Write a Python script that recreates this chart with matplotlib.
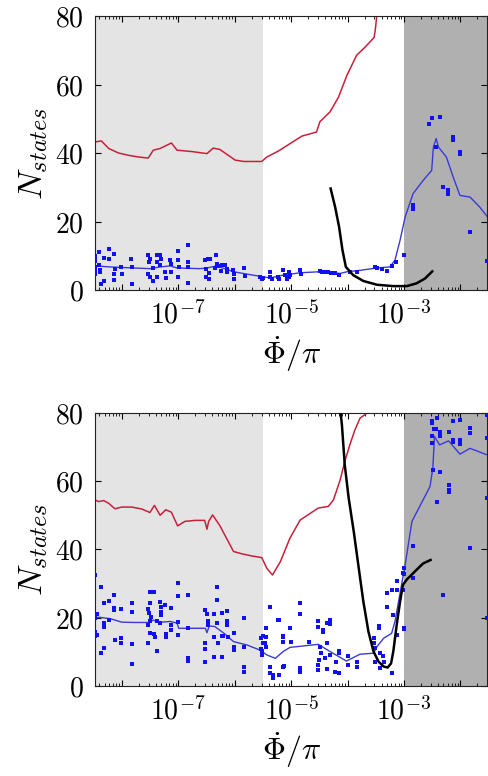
import numpy as np
import matplotlib
matplotlib.use("Agg")
import matplotlib.pyplot as plt
from matplotlib.ticker import FixedLocator, NullFormatter, LogLocator

plt.rcParams['mathtext.fontset'] = 'cm'
plt.rcParams['font.family'] = ['DejaVu Serif']

# ---------------- data (x as log10 of Phi_dot/pi) ----------------
xlim_log = (-8.47, -1.53)
light_end_log = -5.5
dark_start_log = -3.0
yticks = [0, 20, 40, 60, 80]
ytick_labels = ['$0$', '$20$', '$40$', '$60$', '$80$']
xtick_exps = [-8, -7, -6, -5, -4, -3, -2]
xtick_labels = ['', '$10^{-7}$', '', '$10^{-5}$', '', '$10^{-3}$', '']

# top panel
top_red_lx = [-8.47, -8.36, -8.23, -8.06, -7.88, -7.70, -7.53, -7.44, -7.32, -7.12, -7.02, -6.76, -6.49,
              -6.38, -6.26, -5.99, -5.84, -5.52, -5.43, -5.22, -5.02, -4.81, -4.55, -4.49, -4.31, -4.16,
              -4.01, -3.84, -3.69, -3.53, -3.51, -3.48]
top_red_y = [43.3, 43.6, 41.4, 40.1, 39.4, 38.9, 38.6, 40.9, 41.4, 43.0, 40.9, 40.5, 39.9,
             41.5, 41.1, 38.0, 37.6, 37.6, 38.9, 40.7, 42.8, 45.0, 46.2, 49.2, 52.1, 56.4,
             62.8, 68.6, 71.0, 73.8, 75.9, 80.5]

top_black_lx = [-4.30, -4.22, -4.15, -4.09, -4.03, -3.90, -3.72, -3.48, -3.19, -2.95, -2.78, -2.63, -2.50]
top_black_y = [29.7, 24.3, 18.5, 11.7, 6.8, 4.4, 2.7, 1.6, 1.2, 1.2, 2.0, 3.4, 5.5]

top_blue_lx = [-8.47, -8.20, -7.79, -7.50, -7.32, -7.14, -7.02, -6.61, -6.49, -6.32, -6.02, -5.78, -5.49,
               -5.37, -5.14, -4.84, -4.49, -4.13, -4.01, -3.78, -3.48, -3.25, -3.16, -3.07, -2.98, -2.84,
               -2.66, -2.51, -2.48, -2.43, -2.39, -2.25, -2.13, -2.01, -1.83, -1.66, -1.53]
top_blue_y = [7.1, 6.8, 6.5, 6.3, 6.8, 7.1, 6.5, 6.3, 6.5, 7.1, 5.4, 4.7, 3.9,
              3.6, 4.4, 5.1, 5.4, 4.9, 5.4, 5.8, 6.5, 6.8, 8.8, 14.6, 21.4, 28.2,
              32.1, 35.0, 41.8, 44.3, 41.8, 38.9, 33.1, 27.7, 27.2, 24.3, 21.6]

top_pts_lx = [-8.47, -8.47, -8.47, -8.47, -8.47, -8.47, -8.41, -8.41, -8.38, -8.39, -8.32, -8.31, -8.37,
              -8.23, -8.22, -8.14, -8.13, -8.13, -8.12, -8.01, -8.00, -7.84, -7.82, -7.82, -7.53, -7.50,
              -7.51, -7.53, -7.50, -7.44, -7.45, -7.38, -7.32, -7.37, -7.31, -7.33, -7.38, -7.23, -7.21,
              -7.14, -7.13, -7.12, -7.01, -7.01, -6.99, -7.01, -6.83, -6.83, -6.82, -6.82, -6.52, -6.50,
              -6.48, -6.46, -6.50, -6.46, -6.43, -6.33, -6.32, -6.35, -6.29, -6.23, -6.24, -6.17, -6.14,
              -6.13, -6.02, -6.01, -6.01, -5.83, -5.81, -5.55, -5.52, -5.49, -5.37, -5.37, -5.34, -5.24,
              -5.22, -5.14, -5.11, -5.08, -5.02, -5.03, -5.03, -4.84, -4.83, -4.49, -4.46, -4.40, -4.35,
              -4.29, -4.23, -4.15, -3.96, -3.83, -3.51, -3.48, -3.39, -3.31, -3.22, -3.14, -3.00, -2.55,
              -2.50, -2.37, -2.14, -2.14, -2.01, -2.01, -2.31, -2.22, -2.22, -2.84, -2.84, -1.84, -1.53,
              -2.43]
top_pts_y = [10.0, 9.2, 8.5, 6.8, 5.8, 4.6, 11.2, 7.5, 5.8, 5.2, 9.4, 2.6, 1.7,
             12.0, 9.2, 10.7, 4.6, 2.9, 6.1, 6.8, 4.6, 9.1, 1.7, 6.8, 10.4, 9.2,
             8.1, 4.6, 3.9, 6.5, 2.6, 10.4, 10.4, 8.1, 9.2, 7.3, 3.9, 5.2, 3.6,
             8.8, 7.8, 5.2, 11.4, 8.8, 6.8, 3.9, 13.1, 8.1, 6.8, 2.2, 8.8, 6.3,
             9.2, 4.9, 3.9, 3.2, 9.2, 10.4, 7.8, 6.5, 7.1, 7.5, 5.5, 7.3, 6.1,
             5.2, 5.8, 4.6, 3.2, 6.5, 4.2, 3.9, 3.4, 3.6, 5.2, 3.9, 3.4, 3.9,
             3.4, 5.8, 4.4, 3.4, 4.4, 5.4, 3.9, 5.8, 4.6, 5.5, 5.2, 5.2, 5.2,
             4.9, 4.9, 4.4, 5.4, 5.4, 6.8, 6.5, 6.1, 5.5, 7.1, 8.3, 10.4, 48.5,
             50.4, 50.6, 44.8, 44.0, 40.4, 39.7, 30.2, 29.2, 28.2, 24.8, 23.6, 17.0, 8.5,
             41.8]

# bottom panel
bot_red_lx = [-8.47, -8.41, -8.32, -8.23, -8.12, -8.00, -7.82, -7.64, -7.50, -7.42, -7.32, -7.22, -7.12,
              -7.01, -6.88, -6.70, -6.53, -6.49, -6.46, -6.39, -6.26, -6.02, -5.87, -5.70, -5.52, -5.43,
              -5.33, -5.19, -5.02, -4.84, -4.52, -4.34, -4.25, -4.13, -4.05, -3.96, -3.87, -3.78, -3.66,
              -3.40]
bot_red_y = [54.5, 54.0, 54.3, 53.5, 51.9, 52.4, 52.4, 51.8, 50.8, 52.9, 50.0, 51.6, 50.9,
             46.9, 48.2, 48.5, 48.5, 45.9, 48.2, 50.1, 46.9, 39.4, 38.7, 38.1, 37.6, 34.5,
             32.5, 36.4, 43.3, 48.6, 52.1, 52.6, 54.5, 60.4, 65.7, 70.6, 75.0, 78.4, 79.9,
             81.0]

bot_black_lx = [-4.13, -4.10, -4.05, -3.98, -3.89, -3.81, -3.72, -3.63, -3.54, -3.45, -3.36, -3.29, -3.23,
                -3.19, -3.13, -3.07, -3.02, -2.95, -2.90, -2.78, -2.66, -2.53]
bot_black_y = [81.0, 76.5, 64.8, 55.0, 45.2, 35.5, 24.7, 15.9, 10.1, 7.1, 5.7, 5.4, 6.6,
               10.1, 17.9, 24.7, 29.6, 31.2, 32.0, 34.0, 35.9, 36.9]

bot_blue_lx = [-8.47, -8.38, -8.20, -8.00, -7.79, -7.53, -7.44, -7.35, -7.14, -7.02, -6.99, -6.79, -6.52,
               -6.49, -6.45, -6.35, -6.17, -6.02, -5.78, -5.55, -5.43, -5.28, -5.14, -5.02, -4.52, -4.31,
               -4.02, -3.78, -3.54, -3.48, -3.36, -3.22, -3.16, -3.07, -2.98, -2.86, -2.54, -2.49, -2.46,
               -2.37, -2.21, -2.01, -1.83, -1.53]
bot_blue_y = [20.1, 20.1, 19.7, 18.7, 18.6, 18.6, 19.3, 18.6, 18.9, 18.4, 16.9, 16.9, 16.9,
              15.6, 17.6, 17.4, 15.2, 13.0, 12.0, 10.5, 9.1, 8.1, 10.1, 11.3, 12.2, 10.1,
              7.3, 9.3, 9.6, 11.5, 14.0, 15.4, 18.9, 27.2, 35.5, 48.2, 58.4, 63.8, 73.1,
              70.6, 71.8, 67.9, 69.6, 67.7]

bot_pts_lx = [-8.47, -8.47, -8.47, -8.47, -8.43, -8.43, -8.37, -8.37, -8.32, -8.31, -8.31, -8.31, -8.23,
              -8.23, -8.13, -8.13, -8.13, -8.12, -8.01, -8.01, -8.01, -7.82, -7.82, -7.82, -7.82, -7.50,
              -7.42, -7.50, -7.53, -7.51, -7.48, -7.49, -7.53, -7.50, -7.42, -7.41, -7.53, -7.38, -7.38,
              -7.32, -7.31, -7.31, -7.31, -7.32, -7.23, -7.21, -7.21, -7.13, -7.13, -7.13, -7.01, -7.01,
              -7.01, -7.01, -6.83, -6.83, -6.83, -6.83, -6.52, -6.49, -6.52, -6.52, -6.52, -6.48, -6.48,
              -6.36, -6.32, -6.32, -6.32, -6.36, -6.29, -6.37, -6.23, -6.23, -6.21, -6.13, -6.13, -6.13,
              -6.12, -6.23, -6.01, -6.01, -6.01, -5.83, -5.83, -5.83, -5.83, -5.54, -5.54, -5.52, -5.52,
              -5.49, -5.44, -5.44, -5.37, -5.37, -5.37, -5.32, -5.32, -5.24, -5.22, -5.14, -5.14, -5.12,
              -5.38, -5.22, -5.44, -5.49, -5.46, -5.14, -5.14, -5.02, -5.01, -5.14, -4.84, -4.84, -4.69,
              -4.84, -4.84, -4.52, -4.52, -4.44, -4.44, -4.37, -4.31, -4.31, -4.37, -4.48, -4.47, -4.50,
              -4.52, -4.52, -4.40, -4.31, -4.37, -4.22, -4.15, -4.15, -4.20, -4.15, -4.00, -4.00, -3.83,
              -3.83, -3.45, -3.44, -3.53, -3.53, -3.51, -3.43, -3.51, -3.42, -3.38, -3.35, -3.31, -3.31,
              -3.22, -3.20, -3.22, -3.13, -3.13, -3.13, -3.01, -3.01, -3.00, -3.00, -3.00, -3.00, -2.84,
              -2.84, -2.50, -2.50, -2.47, -2.43, -2.50, -2.50, -2.42, -2.37, -2.37, -2.48, -2.37, -2.42,
              -2.21, -2.13, -2.13, -2.13, -2.01, -2.01, -2.01, -2.21, -2.21, -2.21, -1.84, -1.84, -1.84,
              -2.31, -1.53, -1.53, -1.53, -1.53]
bot_pts_y = [32.5, 19.8, 15.9, 14.5, 21.1, 14.9, 28.9, 9.8, 24.4, 18.4, 17.4, 11.0, 25.0,
             19.3, 26.7, 22.8, 22.3, 13.5, 22.5, 14.0, 12.5, 24.4, 21.7, 12.3, 6.4, 27.6,
             27.6, 24.2, 22.5, 21.3, 20.3, 18.9, 17.9, 15.6, 15.2, 14.3, 12.5, 10.1, 18.9,
             24.7, 23.2, 21.8, 20.8, 18.4, 23.7, 15.2, 14.3, 22.8, 17.9, 16.4, 30.3, 26.4,
             18.6, 15.0, 26.7, 16.9, 8.1, 7.4, 22.3, 21.1, 12.7, 10.7, 7.1, 18.9, 17.9,
             21.1, 29.1, 25.2, 18.4, 14.3, 12.7, 8.6, 21.5, 14.5, 14.5, 22.1, 18.9, 17.9,
             14.3, 8.4, 15.4, 11.3, 10.5, 19.8, 11.5, 5.7, 4.2, 14.0, 10.7, 10.1, 9.1,
             12.7, 14.3, 11.3, 23.2, 5.5, 3.9, 3.2, 2.2, 19.3, 3.2, 14.3, 13.0, 5.9,
             23.2, 19.3, 17.1, 14.5, 12.5, 14.5, 12.8, 17.1, 12.8, 5.7, 24.2, 21.0, 12.8,
             5.2, 4.2, 19.0, 17.4, 16.4, 15.9, 18.4, 19.3, 18.1, 12.5, 11.5, 9.6, 7.6,
             6.2, 4.7, 8.1, 9.1, 5.0, 4.2, 10.3, 9.6, 7.1, 3.7, 8.9, 6.2, 6.9,
             5.7, 17.6, 17.1, 14.0, 12.5, 11.0, 9.6, 7.1, 5.2, 8.9, 7.1, 27.2, 23.1,
             28.1, 20.8, 3.7, 30.8, 28.1, 14.9, 33.0, 28.1, 34.5, 32.7, 16.7, 16.9, 41.1,
             31.6, 77.7, 77.0, 75.3, 75.3, 73.1, 71.1, 78.6, 74.5, 73.1, 63.3, 62.8, 53.8,
             74.3, 77.7, 72.1, 71.4, 77.9, 72.1, 70.8, 58.9, 57.4, 56.8, 75.5, 74.0, 40.3,
             26.7, 72.6, 55.2, 19.8, 79.5]

# ---------------- figure ----------------
fig = plt.figure(figsize=(4.88, 7.76), dpi=100)
ax_top = fig.add_axes([0.195, 0.626, 0.803, 0.353])
ax_bot = fig.add_axes([0.195, 0.116, 0.803, 0.352])

light_gray = '#e4e4e4'
dark_gray = '#b0b0b0'
red = '#c8203a'
blue_line = '#3a3ad6'
blue_pt = '#1010f0'

def p(lx):
    return 10.0 ** np.asarray(lx)

panels = [
    (ax_top, top_red_lx, top_red_y, top_black_lx, top_black_y, top_blue_lx, top_blue_y, top_pts_lx, top_pts_y),
    (ax_bot, bot_red_lx, bot_red_y, bot_black_lx, bot_black_y, bot_blue_lx, bot_blue_y, bot_pts_lx, bot_pts_y),
]

for ax, rlx, ry, klx, ky, blx, by, plx, py in panels:
    ax.set_xscale('log')
    ax.set_xlim(p(xlim_log[0]), p(xlim_log[1]))
    ax.set_ylim(0, 80)
    ax.axvspan(p(xlim_log[0]), p(light_end_log), color=light_gray, lw=0, zorder=0)
    ax.axvspan(p(dark_start_log), p(xlim_log[1]), color=dark_gray, lw=0, zorder=0)
    ax.plot(p(rlx), ry, color=red, lw=1.1, zorder=2)
    ax.plot(p(blx), by, color=blue_line, lw=1.0, zorder=3)
    ax.plot(p(plx), py, ls='none', marker='s', ms=2.3, mew=0, color=blue_pt, zorder=4)
    ax.plot(p(klx), ky, color='black', lw=1.8, zorder=5)

    ax.xaxis.set_major_locator(FixedLocator(p(xtick_exps)))
    ax.set_xticklabels(xtick_labels)
    ax.xaxis.set_minor_locator(LogLocator(base=10, subs=np.arange(2, 10), numticks=30))
    ax.xaxis.set_minor_formatter(NullFormatter())
    ax.set_yticks(yticks)
    ax.set_yticklabels(ytick_labels)
    ax.tick_params(which='both', direction='in', top=True, right=True, labelsize=20)
    ax.tick_params(which='major', length=4, width=0.8)
    ax.tick_params(which='minor', length=2.5, width=0.6)
    ax.tick_params(axis='y', pad=8)
    ax.tick_params(axis='x', pad=8)
    for s in ax.spines.values():
        s.set_linewidth(0.8)
        s.set_color('#222222')
    ax.set_ylabel('$N_{states}$', fontsize=25, labelpad=4)
    ax.set_xlabel(r'$\dot{\Phi}/\pi$', fontsize=23, labelpad=3)

fig.savefig('out.png', dpi=100)
